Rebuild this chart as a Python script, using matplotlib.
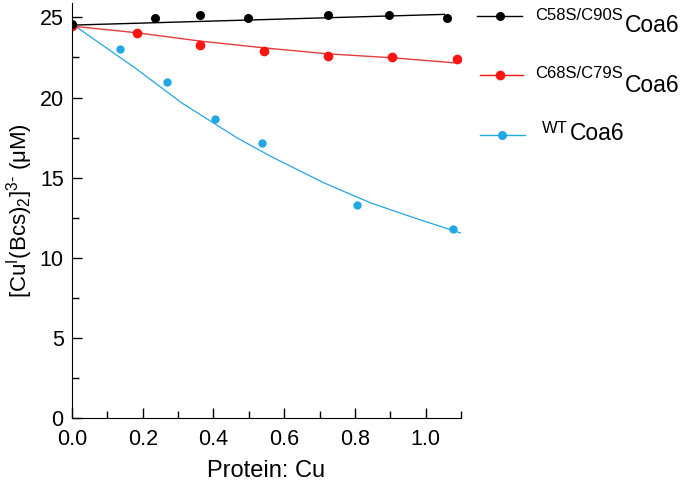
import matplotlib
matplotlib.use("Agg")
import matplotlib.pyplot as plt
from matplotlib.lines import Line2D
from matplotlib.ticker import MultipleLocator

plt.rcParams['font.family'] = ['Liberation Sans', 'DejaVu Sans']
plt.rcParams['mathtext.fontset'] = 'custom'
plt.rcParams['mathtext.rm'] = 'Liberation Sans'
plt.rcParams['mathtext.it'] = 'Liberation Sans:italic'

# measured points
x_c58 = [0.0, 0.234, 0.363, 0.499, 0.725, 0.895, 1.06]
y_c58 = [24.6, 24.98, 25.14, 24.98, 25.14, 25.14, 24.98]
x_c68 = [0.0, 0.184, 0.361, 0.543, 0.725, 0.906, 1.089]
y_c68 = [24.46, 24.04, 23.27, 22.9, 22.58, 22.52, 22.38]
x_wt = [0.0, 0.135, 0.269, 0.403, 0.536, 0.805, 1.076]
y_wt = [24.5, 23.0, 21.0, 18.67, 17.14, 13.31, 11.79]

# fitted curves
fx_c58 = [0.0, 1.053]
fy_c58 = [24.52, 25.19]
fx_c68 = [0.0, 0.184, 0.363, 0.543, 0.722, 0.906, 1.08]
fy_c68 = [24.46, 24.04, 23.52, 23.1, 22.73, 22.48, 22.17]
fx_wt = [0.0, 0.084, 0.178, 0.31, 0.467, 0.562, 0.713, 0.845, 0.977, 1.1]
fy_wt = [24.6, 23.3, 21.85, 19.67, 17.48, 16.33, 14.67, 13.42, 12.42, 11.54]

sup_labels = ['C58S/C90S', 'C68S/C79S', 'WT']
main_label = 'Coa6'

c_black = 'black'
c_red = '#ff1414'
c_blue = '#22a7e4'

W, H = 687, 483
fig = plt.figure(figsize=(W / 100, H / 100), dpi=100)
ax = fig.add_axes([72 / W, 1 - 418 / H, (461 - 72) / W, (418 - 3) / H])

ax.plot(fx_wt, fy_wt, color=c_blue, lw=0.9)
ax.plot(x_wt, y_wt, 'o', color=c_blue, ms=6, mec='none')
ax.plot(fx_c68, fy_c68, color='#e43c3c', lw=1.0)
ax.plot(x_c68, y_c68, 'o', color=c_red, ms=7, mec='none')
ax.plot(fx_c58, fy_c58, color=c_black, lw=1.0)
ax.plot(x_c58, y_c58, 'o', color=c_black, ms=6.5, mec='none')

ax.set_xlim(0, 1.1)
ax.set_ylim(0, 25.9)
ax.xaxis.set_major_locator(MultipleLocator(0.2))
ax.xaxis.set_minor_locator(MultipleLocator(0.1))
ax.yaxis.set_major_locator(MultipleLocator(5))
ax.yaxis.set_minor_locator(MultipleLocator(2.5))
ax.xaxis.set_major_formatter(plt.FormatStrFormatter('%.1f'))
ax.tick_params(which='both', direction='in', width=1, labelsize=15.5)
ax.tick_params(axis='x', pad=8)
ax.tick_params(axis='y', pad=6)
ax.tick_params(which='major', length=7.5)
ax.tick_params(which='minor', length=5)
ax.spines['top'].set_visible(False)
ax.spines['right'].set_visible(False)

ax.set_xlabel('Protein: Cu', fontsize=17, labelpad=7)
ax.set_ylabel(r'[Cu$^{\mathregular{I}}$(Bcs)$_{\mathregular{2}}$]$^{\mathregular{3\text{-}}}$ (μM)',
              fontsize=16, labelpad=3)

# legend drawn by hand, outside the axes
rows = [(477, 522, 500, 15.7, 535, 20, 32, c_black, 6.5),
        (480, 523, 500, 75.0, 535, 78, 91.5, c_red, 7),
        (480, 525, 502, 135.0, 542, 133, 139.5, c_blue, 6.5)]
renderer = fig.canvas.get_renderer()
for (x0, x1, xm, ym, xt, ys, yb, col, ms), sup in zip(rows, sup_labels):
    fig.add_artist(Line2D([x0 / W, x1 / W], [1 - ym / H] * 2, color=col, lw=1.0,
                          transform=fig.transFigure))
    fig.add_artist(Line2D([xm / W], [1 - ym / H], marker='o', color=col, ms=ms,
                          mec='none', transform=fig.transFigure))
    t = fig.text(xt / W, 1 - ys / H, sup, fontsize=12, va='baseline', ha='left')
    x_end = t.get_window_extent(renderer).x1
    fig.text((x_end + 2) / W, 1 - yb / H, main_label, fontsize=16.5,
             va='baseline', ha='left')

fig.savefig('out.png', dpi=100)
